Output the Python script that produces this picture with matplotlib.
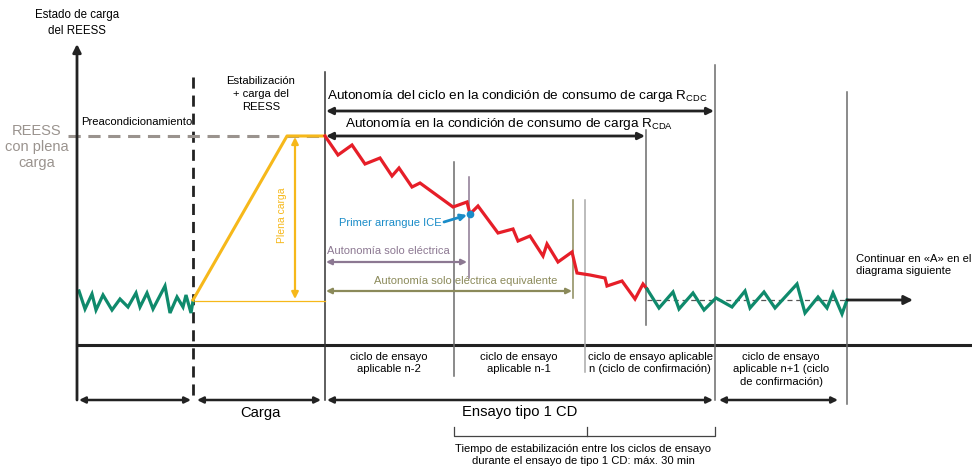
import matplotlib.pyplot as plt

plt.rcParams['font.family'] = ['Liberation Sans', 'DejaVu Sans']
plt.rcParams['mathtext.fontset'] = 'custom'
plt.rcParams['mathtext.rm'] = 'Liberation Sans'

# schematic traces (pixel coordinates of the drawing, y grows downward)
green_left_x = [79, 85, 92, 96, 103, 112, 120, 128, 136, 140, 147, 153, 165, 170, 177, 183, 186, 191, 193]
green_left_y = [291, 309, 294, 310, 295, 310, 299, 307, 293, 307, 293, 309, 286, 313, 297, 307, 295, 313, 301]

red_x = [325, 338, 352, 365, 380, 392, 399, 412, 420, 453, 467, 470, 478, 498, 513, 518, 530, 543, 547,
         558, 572, 577, 590, 605, 607, 622, 635, 643, 647]
red_y = [136, 155, 145, 164, 158, 176, 168, 187, 183, 207, 202, 214, 206, 233, 229, 241, 236, 256, 244,
         262, 252, 273, 275, 278, 286, 281, 299, 284, 289]

green_right_x = [647, 659, 673, 679, 693, 704, 716, 732, 745, 750, 764, 775, 797, 805, 818, 827, 833, 842, 847]
green_right_y = [289, 308, 292, 309, 293, 310, 298, 307, 291, 308, 292, 308, 284, 313, 297, 308, 293, 314, 300]

yellow_x = [193, 287, 325]
yellow_y = [300, 136, 136]

full_level = 136
base_level = 300

below_labels = ["ciclo de ensayo\naplicable n-2", "ciclo de ensayo\naplicable n-1",
                "ciclo de ensayo aplicable\nn (ciclo de confirmación)",
                "ciclo de ensayo\naplicable n+1 (ciclo\nde confirmación)"]
below_x = [389, 519, 650, 781]

GREEN = '#0f8a6c'
RED = '#e61e28'
YELLOW = '#f6b81a'
BLUE = '#1a8cc8'
PURPLE = '#8c7892'
OLIVE = '#8b8a5a'
GRAY = '#9a938e'
DARK = '#222222'
VGRAY = '#6b6b6b'

fig = plt.figure(figsize=(9.72, 4.66), dpi=100)
ax = fig.add_axes([0, 0, 1, 1])
ax.set_xlim(0, 972)
ax.set_ylim(466, 0)
ax.axis('off')


def arrow(x0, y0, x1, y1, color=DARK, style='<|-|>', lw=1.6, ms=10):
    ax.annotate('', xy=(x1, y1), xytext=(x0, y0),
                arrowprops=dict(arrowstyle=style, color=color, lw=lw, shrinkA=0, shrinkB=0,
                                mutation_scale=ms))


# axes
arrow(77, 400, 77, 44, style='-|>', lw=2, ms=12)
ax.plot([77, 972], [345, 345], color=DARK, lw=2.2)

# vertical separators
ax.plot([193, 193], [77, 400], color=DARK, lw=2, ls=(0, (4, 2.5)))
ax.plot([325, 325], [72, 400], color='#333333', lw=1.1)
ax.plot([454, 454], [162, 376], color=VGRAY, lw=1.1)
ax.plot([469, 469], [177, 278], color=PURPLE, lw=1.1)
ax.plot([573, 573], [200, 298], color=OLIVE, lw=1.1)
ax.plot([585, 585], [200, 372], color='#aaaaaa', lw=1.1)
ax.plot([646, 646], [130, 325], color=VGRAY, lw=1.1)
ax.plot([715, 715], [65, 400], color=VGRAY, lw=1.1)
ax.plot([847, 847], [92, 404], color=VGRAY, lw=1.1)

# full-charge reference
ax.plot([68, 325], [full_level, full_level], color=GRAY, lw=2.2, ls=(0, (4, 2.5)))
ax.plot([193, 325], [base_level + 1, base_level + 1], color=YELLOW, lw=0.9)
ax.plot([647, 847], [base_level, base_level], color='#555555', lw=0.9, ls=(0, (4, 3)))

# traces
ax.plot(green_left_x, green_left_y, color=GREEN, lw=2.3, solid_joinstyle='miter')
ax.plot(yellow_x, yellow_y, color=YELLOW, lw=2.2)
ax.plot(red_x, red_y, color=RED, lw=2.3, solid_joinstyle='miter')
ax.plot(green_right_x, green_right_y, color=GREEN, lw=2.3, solid_joinstyle='miter')
arrow(847, 300, 913, 300, style='-|>', lw=2, ms=13)

# plena carga arrow
arrow(295, 137, 295, 299, color=YELLOW, lw=1.6)
ax.text(282, 215, "Plena carga", color=YELLOW, fontsize=7.5, rotation=90, ha='center', va='center')

# first ICE start
ax.plot([470], [214], 'o', color=BLUE, ms=4.5)
arrow(444, 222, 467, 215, color=BLUE, style='-|>', lw=2, ms=9)
ax.text(339, 223, "Primer arrangue ICE", color=BLUE, fontsize=8, va='center')

# electric ranges
ax.text(327, 251, "Autonomía solo eléctrica", color=PURPLE, fontsize=8, va='center')
arrow(326, 262, 467, 262, color=PURPLE, lw=1.6, ms=8)
ax.text(466, 281, "Autonomía solo eléctrica equivalente", color=OLIVE, fontsize=8,
        va='center', ha='center')
arrow(326, 291, 572, 291, color=OLIVE, lw=1.6, ms=8)

# top ranges
ax.text(327, 96, r"Autonomía del ciclo en la condición de consumo de carga R$_{\mathrm{CDC}}$",
        fontsize=9.7, va='center')
arrow(326, 111, 714, 111, lw=2)
ax.text(345, 124, r"Autonomía en la condición de consumo de carga R$_{\mathrm{CDA}}$",
        fontsize=9.7, va='center')
arrow(326, 136, 645, 136, lw=2)

# left labels
ax.text(77, 23, "Estado de carga\ndel REESS", fontsize=8.3, ha='center', va='center', linespacing=1.35)
ax.text(37, 147, "REESS\ncon plena\ncarga", fontsize=10.5, color=GRAY, ha='center', va='center',
        linespacing=1.2)
ax.text(81, 122, "Preacondicionamiento", fontsize=8.1, va='center')
ax.text(261, 94, "Estabilización\n+ carga del\nREESS", fontsize=8.1, ha='center', va='center',
        linespacing=1.35)
ax.text(856, 265, "Continuar en «A» en el\ndiagrama siguiente", fontsize=8.1, va='center',
        linespacing=1.3, clip_on=True)

# below the x axis
for lab, x in zip(below_labels, below_x):
    ax.text(x, 352, lab, fontsize=8.1, ha='center', va='top', linespacing=1.3)

arrow(79, 400, 191, 400, lw=1.8, ms=9)
arrow(197, 400, 321, 400, lw=1.8, ms=9)
arrow(327, 400, 713, 400, lw=1.8, ms=9)
arrow(719, 400, 838, 400, lw=1.8, ms=9)
ax.text(260, 413, "Carga", fontsize=10.6, ha='center', va='center')
ax.text(520, 412, "Ensayo tipo 1 CD", fontsize=10.6, ha='center', va='center')

ax.plot([454, 454, 715, 715], [427, 436, 436, 427], color='#444444', lw=0.9)
ax.plot([587, 587], [427, 436], color='#444444', lw=0.9)
ax.text(583, 455, "Tiempo de estabilización entre los ciclos de ensayo\ndurante el ensayo de tipo 1 CD: máx. 30 min",
        fontsize=8.1, ha='center', va='center', linespacing=1.3)

fig.savefig("out.png", dpi=100)
